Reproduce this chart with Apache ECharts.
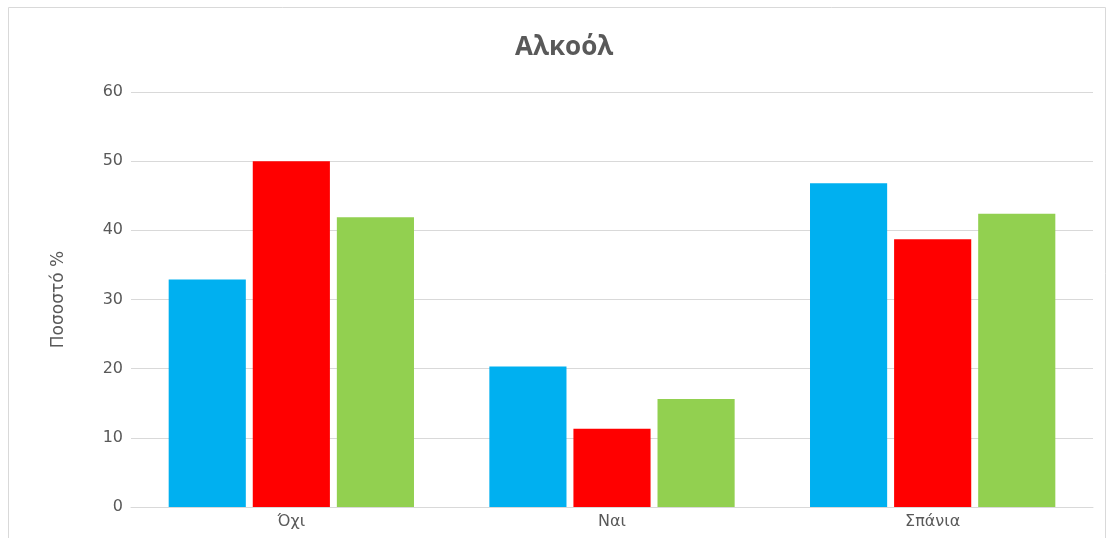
<!DOCTYPE html>
<html>
<head>
<meta charset="utf-8">
<script src="https://cdn.jsdelivr.net/npm/echarts@6/dist/echarts.min.js"></script>
<style>
  html, body { margin: 0; padding: 0; background: #fff; }
  #chart { width: 1110px; height: 538px; }
</style>
</head>
<body>
<div id="chart"></div>
<script>
// Categories and values (percent)
const categories = ['Όχι', 'Ναι', 'Σπάνια'];
const seriesA = [32.9, 20.3, 46.8];
const seriesB = [50.0, 11.3, 38.7];
const seriesC = [41.9, 15.6, 42.4];
const colors = ['#00B0F0', '#FF0000', '#92D050'];

const chart = echarts.init(document.getElementById('chart'));

function bar(data, color) {
    return {
        type: 'bar',
        data: data,
        itemStyle: { color: color },
        barGap: '9%',
        barCategoryGap: '23.5%'
    };
}

chart.setOption({
    animation: false,
    textStyle: { fontFamily: 'DejaVu Sans' },
    title: {
        text: 'Αλκοόλ',
        left: 510,
        top: 30,
        textStyle: { fontSize: 26, fontWeight: 'bold', color: '#595959', fontFamily: 'Open Sans' }
    },
    graphic: [{
        type: 'rect',
        shape: { x: 8.5, y: 7.5, width: 1097, height: 540 },
        style: { fill: 'none', stroke: '#D9D9D9', lineWidth: 1 },
        silent: true
    }],
    grid: { left: 131, right: 17, top: 92, bottom: 31 },
    xAxis: {
        type: 'category',
        data: categories,
        axisLine: { show: true, lineStyle: { color: '#D9D9D9', width: 1 } },
        axisTick: { show: false },
        axisLabel: { color: '#595959', fontSize: 16, margin: 7 }
    },
    yAxis: {
        type: 'value',
        min: 0,
        max: 60,
        interval: 10,
        name: 'Ποσοστό %',
        nameLocation: 'middle',
        nameGap: 64,
        nameTextStyle: { color: '#595959', fontSize: 17 },
        axisLine: { show: false },
        axisTick: { show: false },
        axisLabel: { color: '#595959', fontSize: 16, margin: 8 },
        splitLine: { lineStyle: { color: '#D9D9D9', width: 1 } }
    },
    series: [
        bar(seriesA, colors[0]),
        bar(seriesB, colors[1]),
        bar(seriesC, colors[2])
    ]
});
</script>
</body>
</html>
